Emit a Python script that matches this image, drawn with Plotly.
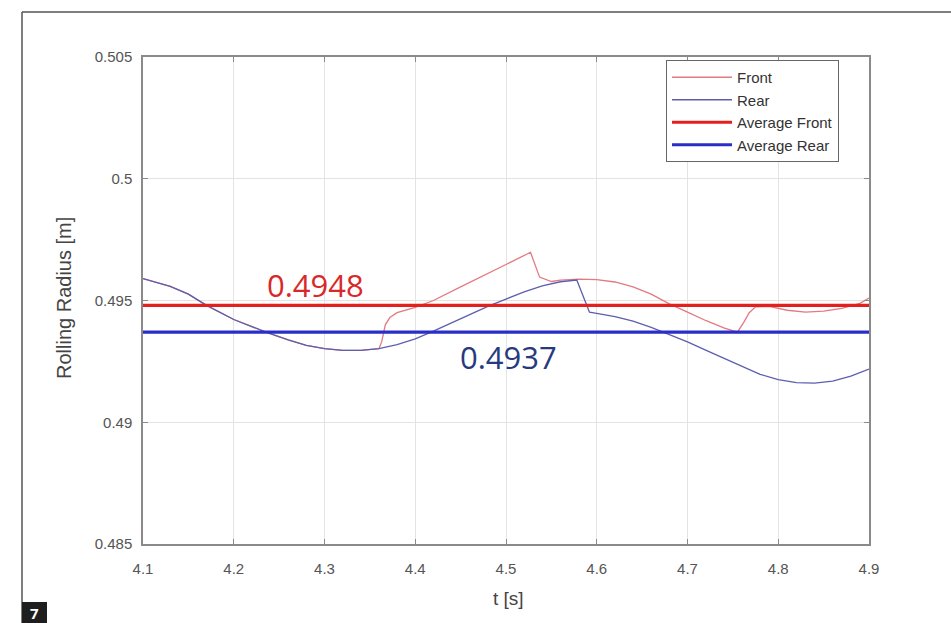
import plotly.graph_objects as go

# ---- data ----
rear_t = [4.10, 4.13, 4.15, 4.17, 4.20, 4.237, 4.26, 4.28, 4.30, 4.32, 4.34, 4.36, 4.38, 4.40,
          4.42, 4.44, 4.46, 4.48, 4.50, 4.52, 4.54, 4.56, 4.578, 4.592, 4.60, 4.62, 4.64, 4.66,
          4.68, 4.70, 4.72, 4.74, 4.76, 4.78, 4.80, 4.82, 4.84, 4.86, 4.88, 4.90]
rear_r = [0.49590, 0.49558, 0.49526, 0.49480, 0.49422, 0.49368, 0.49338, 0.49316, 0.49302,
          0.49295, 0.49295, 0.49302, 0.49319, 0.49342, 0.49374, 0.49408, 0.49442, 0.49476,
          0.49506, 0.49535, 0.49560, 0.49577, 0.49584, 0.49452, 0.49447, 0.49434, 0.49415,
          0.49390, 0.49360, 0.49330, 0.49296, 0.49262, 0.49229, 0.49197, 0.49175, 0.49163,
          0.49161, 0.49169, 0.49189, 0.49218]

front_t = [4.10, 4.13, 4.15, 4.17, 4.20, 4.237, 4.26, 4.28, 4.30, 4.32, 4.34, 4.36, 4.363,
           4.367, 4.372, 4.38, 4.40, 4.42, 4.45, 4.48, 4.50, 4.527, 4.537, 4.55, 4.56, 4.58,
           4.60, 4.62, 4.64, 4.66, 4.68, 4.70, 4.72, 4.74, 4.755, 4.762, 4.768, 4.775, 4.79,
           4.81, 4.83, 4.85, 4.87, 4.89, 4.90]
front_r = [0.49590, 0.49558, 0.49526, 0.49480, 0.49422, 0.49368, 0.49338, 0.49316, 0.49302,
           0.49295, 0.49295, 0.49302, 0.49330, 0.49400, 0.49430, 0.49450, 0.49472, 0.49500,
           0.49556, 0.49610, 0.49648, 0.49698, 0.49596, 0.49578, 0.49584, 0.49588, 0.49586,
           0.49576, 0.49556, 0.49526, 0.49486, 0.49452, 0.49418, 0.49388, 0.49370, 0.49410,
           0.49450, 0.49474, 0.49476, 0.49460, 0.49452, 0.49456, 0.49468, 0.49488, 0.49510]

avg_front = 0.4948
avg_rear = 0.4937

x_ticks = [4.1, 4.2, 4.3, 4.4, 4.5, 4.6, 4.7, 4.8, 4.9]
x_tick_text = ["4.1", "4.2", "4.3", "4.4", "4.5", "4.6", "4.7", "4.8", "4.9"]
y_ticks = [0.485, 0.49, 0.495, 0.5, 0.505]
y_tick_text = ["0.485", "0.49", "0.495", "0.5", "0.505"]

x_range = [4.1, 4.9]
y_range = [0.485, 0.505]

# ---- figure ----
fig = go.Figure()
fig.add_trace(go.Scatter(x=front_t, y=front_r, mode="lines", name="Front",
                         line=dict(color="#e27a80", width=1.3)))
fig.add_trace(go.Scatter(x=rear_t, y=rear_r, mode="lines", name="Rear",
                         line=dict(color="#5c5fae", width=1.3)))
fig.add_trace(go.Scatter(x=x_range, y=[avg_front, avg_front], mode="lines", name="Average Front",
                         line=dict(color="#e3201e", width=3.2)))
fig.add_trace(go.Scatter(x=x_range, y=[avg_rear, avg_rear], mode="lines", name="Average Rear",
                         line=dict(color="#2a2ec8", width=3.2)))

L, R, T, B = 143, 82, 57, 79
W, H = 951, 623
pw, ph = W - L - R, H - T - B


def px(xp):
    return (xp - L) / pw


def py(yp):
    return (H - B - yp) / ph


font_fam = "Liberation Sans, Arial, sans-serif"
tick_font = dict(family=font_fam, size=15, color="#555555")

fig.update_layout(
    width=W, height=H,
    margin=dict(l=L, r=R, t=T, b=B),
    paper_bgcolor="white", plot_bgcolor="white",
    showlegend=True,
    legend=dict(x=px(839), y=py(60), xanchor="right", yanchor="top",
                bgcolor="white", bordercolor="#666666", borderwidth=1,
                font=dict(family=font_fam, size=15, color="#333333"),
                itemwidth=60, tracegroupgap=0),
    xaxis=dict(range=x_range, tickvals=x_ticks, ticktext=x_tick_text,
               showgrid=True, gridcolor="#e3e3e3", gridwidth=1,
               showline=True, linecolor="#8a8a8a", linewidth=1.5, mirror="ticks",
               ticks="inside", ticklen=5, tickcolor="#8a8a8a",
               tickfont=tick_font, ticklabelstandoff=10, zeroline=False),
    yaxis=dict(range=y_range, tickvals=y_ticks, ticktext=y_tick_text,
               showgrid=True, gridcolor="#e3e3e3", gridwidth=1,
               showline=True, linecolor="#8a8a8a", linewidth=1.5, mirror="ticks",
               ticks="inside", ticklen=5, tickcolor="#8a8a8a",
               tickfont=tick_font, ticklabelstandoff=6, zeroline=False),
)


def note(xp, yp, text, font, **kw):
    fig.add_annotation(x=px(xp), y=py(yp), xref="paper", yref="paper", text=text,
                       showarrow=False, xanchor="center", yanchor="middle", font=font, **kw)


# axis titles
note(64, 298, "Rolling Radius [m]", dict(family=font_fam, size=20, color="#444444"), textangle=-90)
note(508, 598, "t [s]", dict(family=font_fam, size=19, color="#444444"))

# value labels
note(315, 285, f"{avg_front:.4f}", dict(family="Open Sans, sans-serif", size=31, color="#d8292a"))
note(508, 357, f"{avg_rear:.4f}", dict(family="Open Sans, sans-serif", size=31, color="#283a7e"))

# outer figure frame (left and top lines)
fig.add_shape(type="line", xref="paper", yref="paper", x0=px(22), x1=px(22), y0=py(12), y1=py(623),
              line=dict(color="#555555", width=1.5))
fig.add_shape(type="line", xref="paper", yref="paper", x0=px(22), x1=px(951), y0=py(12), y1=py(12),
              line=dict(color="#555555", width=1.5))

# figure number box
fig.add_shape(type="rect", xref="paper", yref="paper", x0=px(22), x1=px(47), y0=py(602), y1=py(623),
              fillcolor="#1e1e1e", line=dict(width=0))
note(34.5, 612.5, "<b>7</b>", dict(family="Open Sans, sans-serif", size=15, color="white"))

fig.write_html("out.html")
